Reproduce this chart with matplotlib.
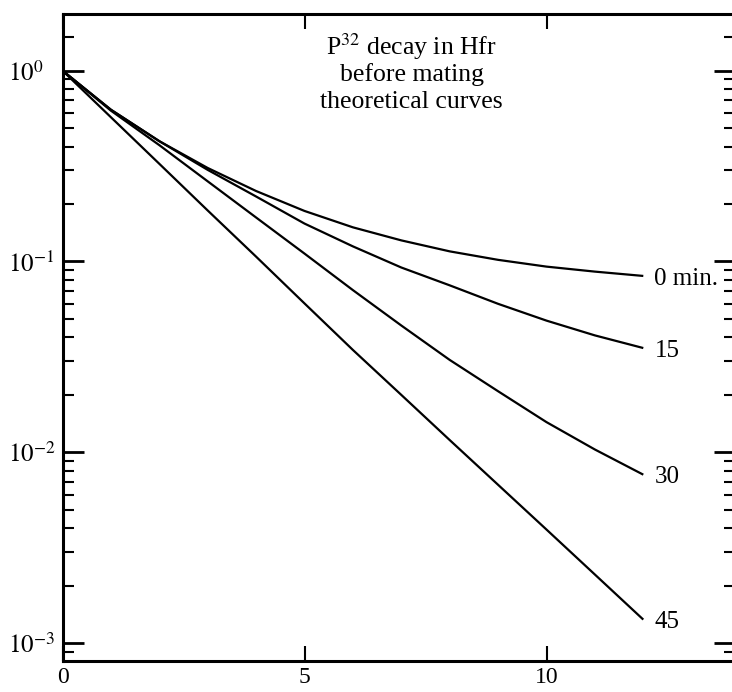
import matplotlib
matplotlib.use("Agg")
import matplotlib.pyplot as plt
from matplotlib.ticker import FixedLocator, FixedFormatter, NullFormatter

plt.rcParams['font.family'] = ['Liberation Serif', 'DejaVu Serif']
plt.rcParams['mathtext.fontset'] = 'stix'

# Data
time_units = [0, 1, 2, 3, 4, 5, 6, 7, 8, 9, 10, 11, 12]
curve_0min = [1.0, 0.624, 0.427, 0.309, 0.234, 0.184, 0.151, 0.129, 0.113, 0.102, 0.094, 0.0885, 0.084]
curve_15 = [1.0, 0.624, 0.427, 0.302, 0.219, 0.158, 0.120, 0.093, 0.075, 0.060, 0.049, 0.041, 0.0352]
curve_30 = [1.0, 0.617, 0.407, 0.263, 0.170, 0.110, 0.0708, 0.0462, 0.0305, 0.0209, 0.0144, 0.01035, 0.00764]
curve_45 = [1.0, 0.570, 0.325, 0.185, 0.106, 0.0603, 0.0344, 0.0200, 0.0116, 0.00676, 0.00394, 0.00229, 0.00133]
curve_labels = ["0 min.", "15", "30", "45"]
title_lines = ["P$^{32}$ decay in Hfr", "before mating", "theoretical curves"]

W, H = 732, 692
fig = plt.figure(figsize=(W / 100, H / 100), dpi=100)
left, right, bottom, top = 62.5, 735, 661, 14
ax = fig.add_axes([left / W, 1 - bottom / H, (right - left) / W, (bottom - top) / H])

for ys, lab in zip([curve_0min, curve_15, curve_30, curve_45], curve_labels):
    ax.plot(time_units, ys, color='black', lw=1.6, solid_capstyle='butt', solid_joinstyle='round')
    ax.annotate(lab, xy=(time_units[-1], ys[-1]), xytext=(8, -2), textcoords='offset points',
                ha='left', va='center', fontsize=18, color='black')

ax.set_yscale('log')
ax.set_xlim(0, (right - left) / 48.4)
ax.set_ylim(8.07e-4, 1.98)

# x ticks
ax.set_xticks([0, 5, 10])
ax.set_xticklabels(['0', '5', '10'], fontsize=17)
ax.tick_params(axis='x', which='major', direction='in', length=11, width=1.5,
               top=True, bottom=True, pad=4)
ax.tick_params(axis='x', which='minor', bottom=False, top=False)

# y ticks
majors = [1e-3, 1e-2, 1e-1, 1e0]
ax.yaxis.set_major_locator(FixedLocator(majors))
ax.yaxis.set_major_formatter(FixedFormatter([r'$10^{-3}$', r'$10^{-2}$', r'$10^{-1}$', r'$10^{0}$']))
minors = [9e-4] + [m * d for d in (1e-3, 1e-2, 1e-1) for m in range(2, 10)] + [1.5]
ax.yaxis.set_minor_locator(FixedLocator(minors))
ax.yaxis.set_minor_formatter(NullFormatter())
ax.tick_params(axis='y', which='major', direction='in', length=15, width=2,
               left=True, right=True, labelsize=18, pad=39)
ax.tick_params(axis='y', which='minor', direction='in', length=8, width=1.5,
               left=True, right=True)
for t in ax.get_yticklabels():
    t.set_horizontalalignment('left')

for s in ax.spines.values():
    s.set_linewidth(2.2)

title_baselines = [0.9366, 0.8957, 0.8547]
for line, yb in zip(title_lines, title_baselines):
    ax.text(0.519, yb, line, transform=ax.transAxes, ha='center', va='baseline',
            fontsize=18.5)

fig.savefig('out.png', dpi=100)
